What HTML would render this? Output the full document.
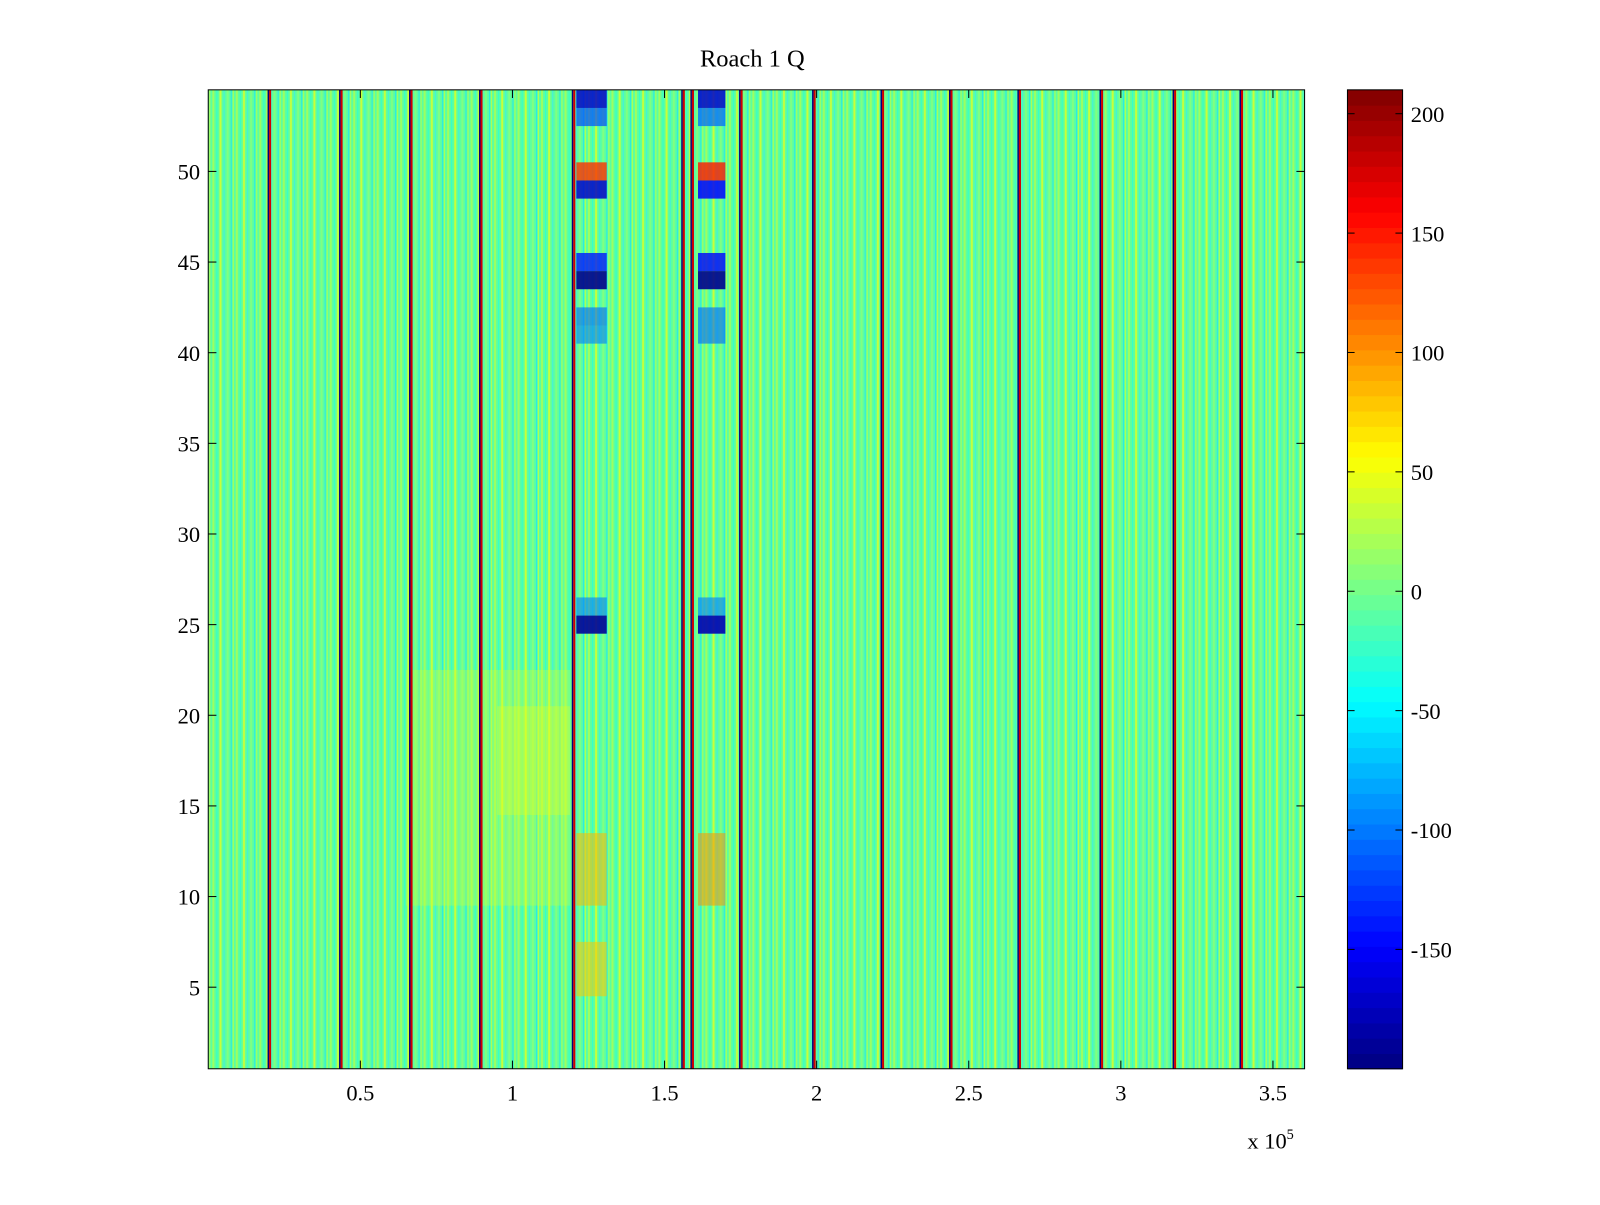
<!DOCTYPE html>
<html><head><meta charset="utf-8">
<style>
body{margin:0;background:#fff;}
svg text{font-family:"Liberation Serif",serif;}
</style></head>
<body>
<svg id="chart" width="1600" height="1200" xmlns="http://www.w3.org/2000/svg">
<defs>
<pattern id="tex" width="23" height="18" patternUnits="userSpaceOnUse">
<rect width="23" height="18" fill="#5cffa0"/>
<rect x="1" width="2" height="18" fill="#9dff60"/>
<rect x="5" width="1" height="18" fill="#30ffd0"/>
<rect x="8" width="2" height="18" fill="#c8ff38"/>
<rect x="12" width="1" height="18" fill="#40f0e0"/>
<rect x="15" width="2" height="18" fill="#80ff80"/>
<rect x="19" width="1" height="18" fill="#28e8e8"/>
<rect x="21" width="1" height="18" fill="#b0ff50"/>
</pattern>
</defs>
<g transform="scale(1.0208)">
<text x="737" y="65" font-size="24" text-anchor="middle">Roach 1 Q</text>
<g id="plot"></g>
<g id="cbar"></g>
</g>
</svg>
<script>
// ---- data ----
const lineXs=[0.20,0.435,0.665,0.895,1.20,1.56,1.59,1.75,1.99,2.215,2.44,2.665,2.935,3.175,3.395]; // x 1e5
const patchX0=[1.21,1.21,1.21,1.21,1.21,1.21,1.21,1.21,1.21,1.21,1.61,1.61,1.61,1.61,1.61,1.61,1.61,1.61,1.61,1.61,0.65,0.95,1.21,1.21,1.61];
const patchX1=[1.31,1.31,1.31,1.31,1.31,1.31,1.31,1.31,1.31,1.31,1.70,1.70,1.70,1.70,1.70,1.70,1.70,1.70,1.70,1.70,1.19,1.19,1.31,1.31,1.70];
const patchY0=[54,53,50,49,45,44,42,41,25,26,54,53,50,49,45,44,42,41,25,26,10,15,5,10,10];
const patchY1=[54,53,50,49,45,44,42,41,25,26,54,53,50,49,45,44,42,41,25,26,22,20,7,13,13];
const patchV=[-170,-120,140,-170,-140,-195,-110,-100,-190,-100,-170,-110,150,-150,-150,-195,-110,-110,-180,-100,35,45,80,85,100];
const patchOp=[0.85,0.7,0.8,0.85,0.8,0.9,0.6,0.6,0.9,0.6,0.85,0.7,0.8,0.85,0.8,0.9,0.6,0.6,0.9,0.6,0.35,0.35,0.55,0.55,0.55];
const xTicks=[0.5,1,1.5,2,2.5,3,3.5];
const xTickLabels=["0.5","1","1.5","2","2.5","3","3.5"];
const yTicks=[5,10,15,20,25,30,35,40,45,50];
const cTicks=[200,150,100,50,0,-50,-100,-150];
// ---- axes ----
const L=204,R=1278,T=88,B=1047;
const xMin=0,xMax=3.604,yMin=0.5,yMax=54.5,cMin=-200,cMax=210;
const X=v=>L+(v-xMin)/(xMax-xMin)*(R-L);
const Y=v=>B-(v-yMin)/(yMax-yMin)*(B-T);
function jet(v){let t=(v-cMin)/(cMax-cMin);t=Math.max(0,Math.min(1,t));
 const f=x=>Math.max(0,Math.min(1,1.5-Math.abs(4*t-x)));
 return `rgb(${Math.round(255*f(3))},${Math.round(255*f(2))},${Math.round(255*f(1))})`;}
const NS="http://www.w3.org/2000/svg";
function mk(p,tag,a){const e=document.createElementNS(NS,tag);for(const k in a)e.setAttribute(k,a[k]);p.appendChild(e);return e;}
const plot=document.getElementById('plot');
const bg=mk(plot,'rect',{x:L,y:T,width:R-L,height:B-T,fill:'url(#tex)'});


for(let i=0;i<patchV.length;i++){
 const r=mk(plot,'rect',{x:X(patchX0[i]),y:Y(patchY1[i]+0.5),width:X(patchX1[i])-X(patchX0[i]),height:Y(patchY0[i]-0.5)-Y(patchY1[i]+0.5),fill:jet(patchV[i]),opacity:patchOp[i]});
 
 
}
lineXs.forEach(v=>{
 const g=mk(plot,'g',{});
 
 
 mk(g,'rect',{x:X(v)-1.5,y:T,width:1.5,height:B-T,fill:'#000080'});
 mk(g,'rect',{x:X(v),y:T,width:2,height:B-T,fill:'#d00000'});
});
const fr=mk(plot,'rect',{x:L,y:T,width:R-L,height:B-T,fill:'none',stroke:'#000','stroke-width':1});


xTicks.forEach((v,i)=>{
 mk(plot,'line',{x1:X(v),x2:X(v),y1:B,y2:B-8,stroke:'#000'});
 mk(plot,'line',{x1:X(v),x2:X(v),y1:T,y2:T+8,stroke:'#000'});
 const t=mk(plot,'text',{x:X(v),y:B+31,'font-size':22,'text-anchor':'middle'});t.textContent=xTickLabels[i];
 
 
});
yTicks.forEach(v=>{
 mk(plot,'line',{x1:L,x2:L+8,y1:Y(v),y2:Y(v),stroke:'#000'});
 mk(plot,'line',{x1:R,x2:R-8,y1:Y(v),y2:Y(v),stroke:'#000'});
 const t=mk(plot,'text',{x:L-8,y:Y(v)+8,'font-size':22,'text-anchor':'end'});t.textContent=v;
 
 
});
const ex=mk(plot,'text',{x:1222,y:1125,'font-size':22});ex.innerHTML='x 10<tspan dy="-9" font-size="14">5</tspan>';


// colorbar
const cb=document.getElementById('cbar');
const CL=1320,CR=1374;
const C=v=>B-(v-cMin)/(cMax-cMin)*(B-T);
const n=64;
for(let i=0;i<n;i++){const v0=cMin+(cMax-cMin)*i/n,v1=cMin+(cMax-cMin)*(i+1)/n;
 mk(cb,'rect',{x:CL,y:C(v1),width:CR-CL,height:C(v0)-C(v1)+0.5,fill:jet((v0+v1)/2)});}
mk(cb,'rect',{x:CL,y:T,width:CR-CL,height:B-T,fill:'none',stroke:'#000'});
cTicks.forEach(v=>{
 mk(cb,'line',{x1:CL,x2:CL+7,y1:C(v),y2:C(v),stroke:'#000'});
 mk(cb,'line',{x1:CR,x2:CR-7,y1:C(v),y2:C(v),stroke:'#000'});
 const t=mk(cb,'text',{x:CR+8,y:C(v)+8,'font-size':22});t.textContent=v;
 
 
});
</script>
</body></html>
